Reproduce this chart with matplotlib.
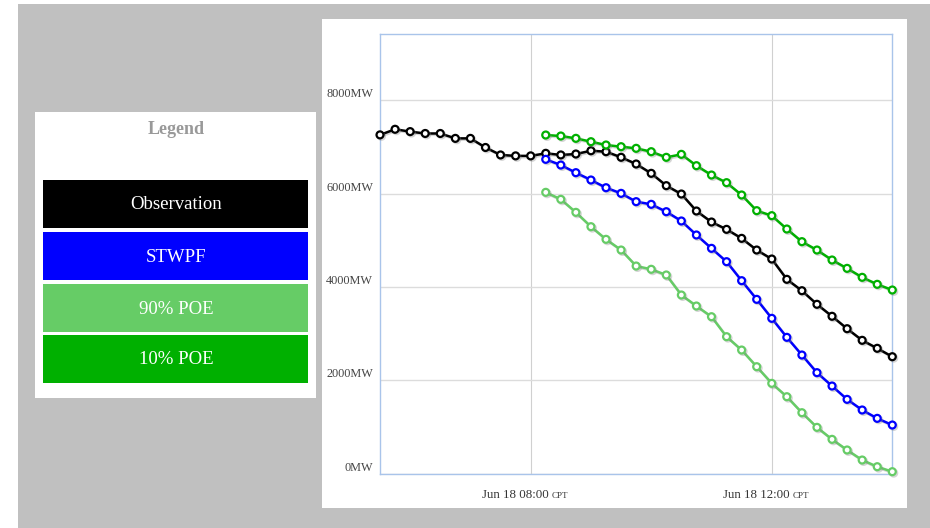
import numpy as np
import matplotlib
matplotlib.use("Agg")
import matplotlib.pyplot as plt
import matplotlib.dates as mdates
import matplotlib.patheffects as pe
from matplotlib.patches import Rectangle

plt.rcParams['font.family'] = ['Liberation Serif', 'DejaVu Serif']

# time axis: observation from 05:30, forecasts from 08:15, every 15 min to 14:00
obs_times = np.arange(np.datetime64('2023-06-18T05:30'), np.datetime64('2023-06-18T14:15'),
                      np.timedelta64(15, 'm')).astype('datetime64[m]').astype(object)
fc_times = np.arange(np.datetime64('2023-06-18T08:15'), np.datetime64('2023-06-18T14:15'),
                     np.timedelta64(15, 'm')).astype('datetime64[m]').astype(object)

observation = [7260, 7380, 7330, 7290, 7290, 7185, 7185, 6990, 6830, 6810, 6810, 6865,
               6830, 6850, 6920, 6900, 6780, 6636, 6436, 6172, 5993, 5629, 5393, 5236,
               5043, 4793, 4600, 4165, 3921, 3630, 3373, 3107, 2858, 2687, 2507]
stwpf = [6736, 6614, 6450, 6293, 6128, 6007, 5829, 5772, 5614, 5415, 5115, 4829,
         4543, 4136, 3736, 3329, 2922, 2543, 2165, 1879, 1593, 1365, 1186, 1043]
poe90 = [6029, 5879, 5600, 5293, 5022, 4793, 4450, 4380, 4258, 3829, 3593, 3364,
         2936, 2650, 2293, 1936, 1650, 1307, 993, 736, 508, 293, 150, 43]
poe10 = [7257, 7236, 7186, 7114, 7043, 7007, 6972, 6900, 6779, 6843, 6600, 6400,
         6236, 5972, 5636, 5529, 5243, 4972, 4793, 4579, 4400, 4208, 4058, 3936]

yticks = [0, 2000, 4000, 6000, 8000]
ytick_labels = ['0MW', '2000MW', '4000MW', '6000MW', '8000MW']
xticks = ['2023-06-18T08:00', '2023-06-18T12:00']
xtick_labels = ['Jun 18 08:00', 'Jun 18 12:00']

legend_names = ['Observation', 'STWPF', '90% POE', '10% POE']
colors = ['#000000', '#0000ff', '#66cc66', '#00b000']

W, H = 930, 528
fig = plt.figure(figsize=(W / 100, H / 100), dpi=100)
fig.patch.set_facecolor('white')


def fig_rect(x0, y0, x1, y1, color, z=0):
    # pixel coords, origin top-left
    fig.patches.append(Rectangle((x0 / W, 1 - y1 / H), (x1 - x0) / W, (y1 - y0) / H,
                                 transform=fig.transFigure, facecolor=color,
                                 edgecolor='none', zorder=z))


fig_rect(18, 4, W, H, '#c0c0c0')
fig_rect(322, 19, 907, 508, 'white', 1)
fig_rect(35, 112, 316, 398, 'white', 1)

# legend panel
fig.text(176 / W, 1 - 129 / H, 'Legend', ha='center', va='center', fontsize=13,
         fontweight='bold', color='#999999', zorder=3)
box_tops = [180, 232, 284, 335]
for name, col, top in zip(legend_names, colors, box_tops):
    fig_rect(43, top, 308, top + 48, col, 2)
    fig.text(176 / W, 1 - (top + 25) / H, name, ha='center', va='center',
             fontsize=13.5, color='white', zorder=3)

# main axes
ax = fig.add_axes([380 / W, 1 - 473.7 / H, (892.3 - 380) / W, (473.7 - 33.7) / H])
ax.set_facecolor('white')
ax.set_zorder(2)

series = [(obs_times, observation), (fc_times, stwpf), (fc_times, poe90), (fc_times, poe10)]
shadow = [pe.SimpleLineShadow(offset=(1, -1), shadow_color='#888888', alpha=0.35), pe.Normal()]
for (t, v), col in zip(series, colors):
    ax.plot(t, v, color=col, lw=1.8, marker='o', ms=5, mfc='white', mec=col, mew=1.6,
            path_effects=shadow, zorder=3, clip_on=False)

ax.set_ylim(0, 9428)
ax.set_xlim(obs_times[0], obs_times[-1])

ax.set_yticks(yticks)
ax.set_yticklabels(ytick_labels)
for lab in ax.get_yticklabels():
    lab.set_va('bottom')
ax.tick_params(axis='y', length=0, pad=5, labelsize=8.8, labelcolor='#444444')
ax.grid(axis='y', color='#dcdcdc', lw=1)

xt = [mdates.date2num(np.datetime64(s).astype(object)) for s in xticks]
ax.set_xticks(xt)
ax.set_xticklabels([])
ax.tick_params(axis='x', length=0)
for x, lab in zip(xt, xtick_labels):
    ax.axvline(x, color='#d0d0d0', lw=0.8, zorder=1)
    ax.annotate(lab, xy=(x, 0), xycoords=('data', 'axes fraction'), xytext=(13, -11),
                textcoords='offset points', ha='right', va='top', fontsize=9.3, color='#333333')
    ax.annotate('CPT', xy=(x, 0), xycoords=('data', 'axes fraction'), xytext=(15, -13),
                textcoords='offset points', ha='left', va='top', fontsize=6.5, color='#333333')

for s in ax.spines.values():
    s.set_color('#a9c4ea')
    s.set_linewidth(1)

fig.savefig('out.png', dpi=100, facecolor=fig.get_facecolor())
